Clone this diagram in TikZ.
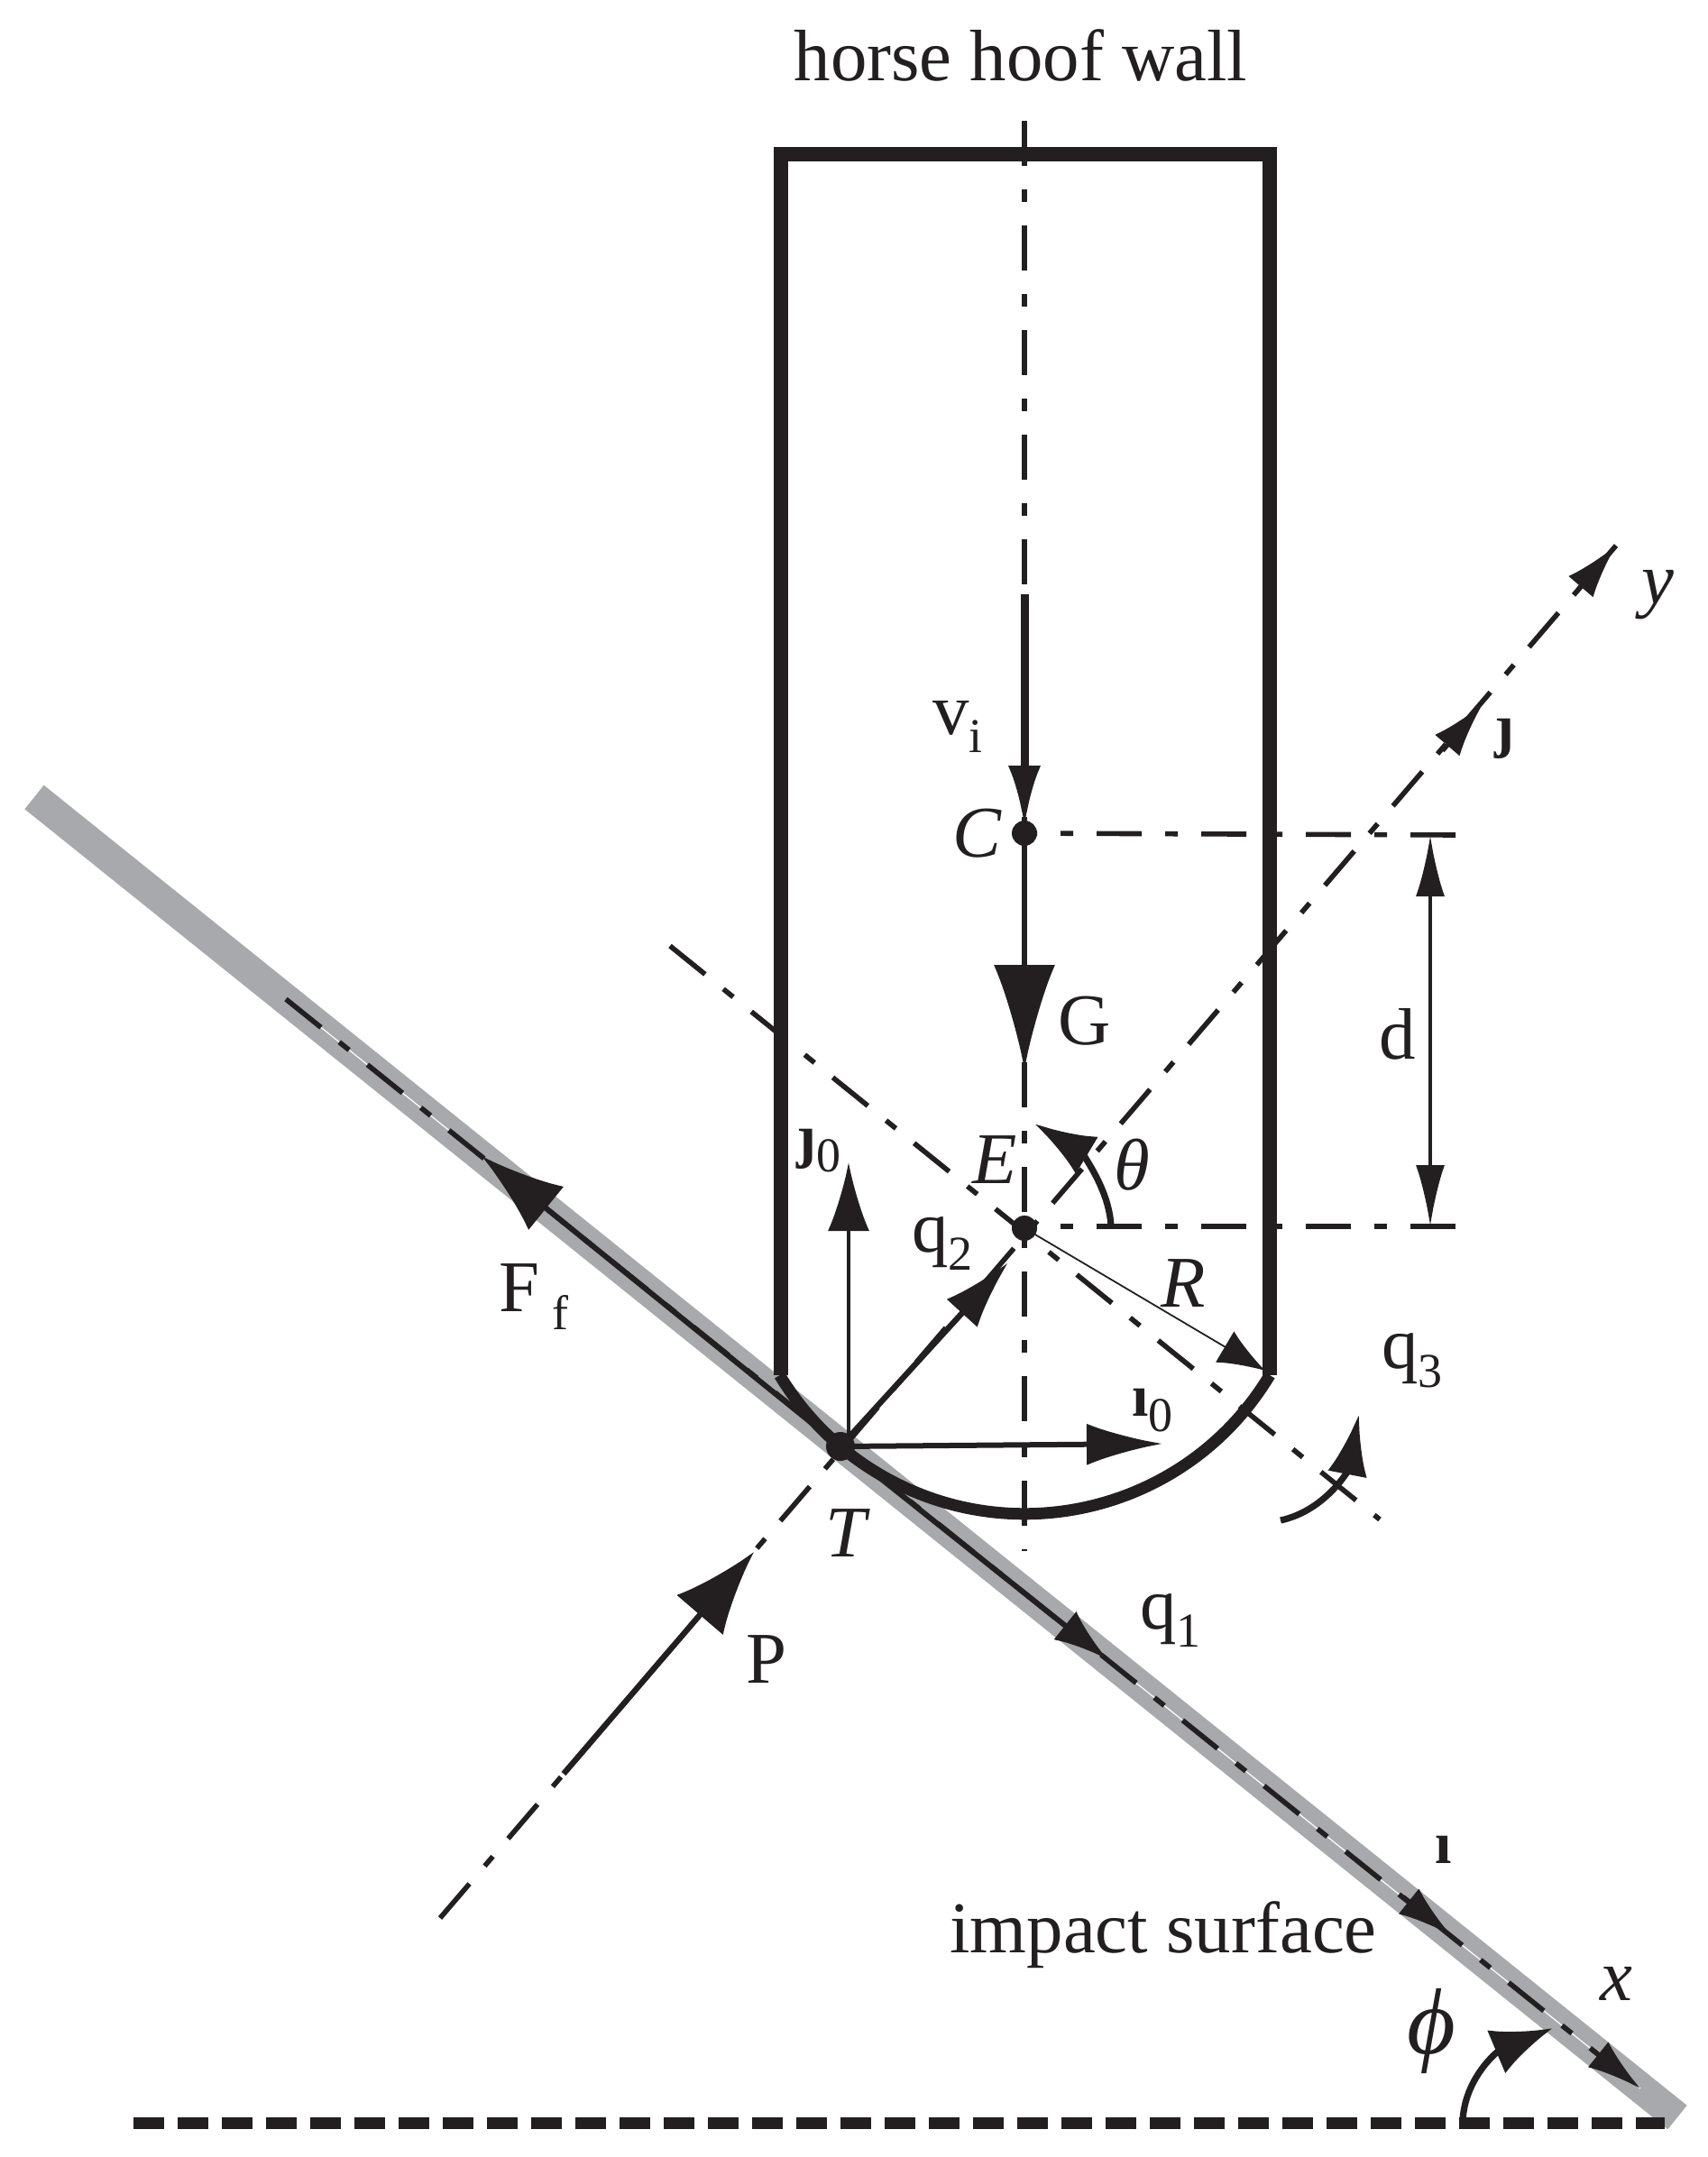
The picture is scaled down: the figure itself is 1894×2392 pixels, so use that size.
\documentclass[tikz,border=0pt]{standalone}
\usepackage{fontspec}
\setmainfont{Liberation Serif}
\usetikzlibrary{arrows.meta, calc}
\definecolor{ink}{HTML}{231F20}
\definecolor{strip}{HTML}{A7A9AC}
\newcommand{\subtext}[1]{\raisebox{-0.55ex}{\fontsize{27}{32}\mdseries\selectfont #1}}
\tikzset{
  centerline/.style={ink, line width=2.8pt, dash pattern=on 25pt off 13pt on 7pt off 13pt},
  vec/.style={ink, line width=3pt},
  head/.style={ink, line width=2.5pt, -{Latex[length=30pt, width=18pt]}},
  label/.style={text=ink, inner sep=0pt, font=\fontsize{40.4}{48}\selectfont},
  italic label/.style={text=ink, inner sep=0pt, font=\fontsize{40.4}{48}\itshape\selectfont},
  small label/.style={text=ink, inner sep=0pt, font=\fontsize{33}{38}\bfseries\selectfont}
}
\begin{document}
\begin{tikzpicture}[x=0.5pt, y=-0.5pt]
  \useasboundingbox (0, 0) rectangle (1894, 2392);

  % Points
  \coordinate (C) at (1136, 924);
  \coordinate (E) at (1136, 1362);
  \coordinate (T) at (932, 1604);
  \coordinate (stripStart) at (38, 884);
  \coordinate (stripEnd) at (1860, 2348);
  \coordinate (surfStart) at (317, 1108);
  \coordinate (xTip) at (1819, 2316);
  \coordinate (iTip) at (1609, 2146);
  \coordinate (ffTip) at (534, 1282);
  \coordinate (qOneTip) at (1228, 1840);
  \coordinate (yStart) at (488, 2127);
  \coordinate (yTip) at (1792, 605);
  \coordinate (jTip) at (1644, 781);
  \coordinate (pStart) at (625, 1967);
  \coordinate (pTip) at (836, 1721);
  \coordinate (axisTop) at (1136, 134);
  \coordinate (axisBottom) at (1136, 1720);
  \coordinate (diagStart) at (743, 1049);
  \coordinate (diagEnd) at (1530, 1685);
  \coordinate (dimTop) at (1614, 926);
  \coordinate (dimBottom) at (1614, 1360);
  \coordinate (dTop) at (1586, 926);
  \coordinate (dBottom) at (1586, 1360);
  \coordinate (horizStart) at (148, 2354);
  \coordinate (horizEnd) at (1846, 2354);

  % Impact surface
  \draw[strip, line width=17pt] (stripStart) -- (stripEnd);
  \draw[white, line width=0.6pt] (surfStart) -- (xTip);
  \draw[centerline] (surfStart) -- (xTip);
  \draw[ink, line width=6.5pt, dash pattern=on 17pt off 7.5pt] (horizStart) -- (horizEnd);

  % Centre lines
  \draw[centerline] (axisTop) -- (axisBottom);
  \draw[centerline] (yStart) -- (yTip);
  \draw[centerline] (diagStart) -- (diagEnd);
  \draw[centerline] (dimTop) -- (C);
  \draw[centerline] (dimBottom) -- (E |- dimBottom);

  % Hoof wall
  \draw[ink, line width=7.8pt] (866, 1525) -- (866, 171) -- (1408, 171) -- (1408, 1525);
  \draw[ink, line width=6.5pt] (1408, 1525) arc[start angle=-31, end angle=-149, radius=158.5pt];

  % Vectors
  \draw[vec, line width=4.5pt, -{Latex[length=34pt, width=18pt]}] (1136, 659) -- (1136, 917);
  \draw[vec, -{Latex[length=58pt, width=34pt]}] (C) -- (1136, 1186);
  \draw[vec, line width=2.4pt, {Latex[length=34pt, width=16pt]}-{Latex[length=34pt, width=16pt]}] (dTop) -- (dBottom);
  \draw[vec, line width=2.4pt, -{Latex[length=38pt, width=23pt]}] (941, 1604) -- (941, 1289);
  \draw[vec, -{Latex[length=42pt, width=23pt]}] (T) -- (1289, 1601);
  \draw[vec, line width=3.2pt, -{Latex[length=38pt, width=23pt]}] (T) -- (1118, 1400);
  \draw[vec, line width=0.9pt, -{Latex[length=26pt, width=20pt]}] (E) -- (1403, 1520);
  \draw[vec, -{Latex[length=46pt, width=31pt]}] (T) -- (ffTip);
  \draw[vec, -{Latex[length=30pt, width=20pt]}] (T) -- (qOneTip);
  \draw[vec, line width=3.2pt, -{Latex[length=46pt, width=34pt]}] (pStart) -- (pTip);
  \draw[head] ($(iTip)!34pt!(surfStart)$) -- (iTip);
  \draw[head] ($(xTip)!34pt!(surfStart)$) -- (xTip);
  \draw[head] ($(yTip)!34pt!(yStart)$) -- (yTip);
  \draw[head] ($(jTip)!34pt!(yStart)$) -- (jTip);

  % Angle arrows
  \draw[vec, line width=3.6pt, -{Latex[length=34pt, width=24pt]}] (1232, 1360) .. controls (1230, 1315) and (1195, 1275) .. (1147, 1246);
  \draw[vec, line width=3.6pt, -{Latex[length=34pt, width=22pt]}] (1420, 1686) .. controls (1470, 1675) and (1495, 1630) .. (1507, 1568);
  \draw[vec, line width=3.6pt, -{Latex[length=34pt, width=26pt]}] (1622, 2352) .. controls (1624, 2305) and (1660, 2275) .. (1722, 2249);

  % Points on top
  \fill[ink] (C) circle[radius=7pt];
  \fill[ink] (E) circle[radius=7pt];
  \fill[ink] (T) circle[radius=8pt];

  % Labels
  \node[label] (wallText) at (1132, 61) {horse hoof wall};
  \node[label] (viText) at (1062, 806) {v\subtext{i}};
  \node[italic label] (cText) at (1083, 924) {C};
  \node[label] (gText) at (1203, 1132) {G};
  \node[label] (dText) at (1550, 1147) {d};
  \node[italic label] (eText) at (1103, 1286) {E};
  \node[italic label] (thetaText) at (1255, 1292) {θ};
  \node[small label] (jText) at (1668, 819) {ȷ};
  \node[italic label] (yText) at (1838, 660) {y};
  \node[small label] (jZeroText) at (908, 1276) {ȷ\subtext{0}};
  \node[label] (qTwoText) at (1045, 1379) {q\subtext{2}};
  \node[italic label] (rText) at (1312, 1423) {R};
  \node[label] (ffText) at (592, 1438) {F\,\subtext{f}};
  \node[label] (qThreeText) at (1566, 1509) {q\subtext{3}};
  \node[small label] (iZeroText) at (1278, 1564) {ı\subtext{0}};
  \node[italic label] (tText) at (938, 1700) {T};
  \node[label] (qOneText) at (1298, 1797) {q\subtext{1}};
  \node[label] (pText) at (850, 1840) {P};
  \node[small label] (iText) at (1601, 2051) {ı};
  \node[label] (surfText) at (1290, 2146) {impact surface};
  \node[italic label] (xText) at (1792, 2200) {x};
  \node[italic label, font=\fontsize{52}{60}\itshape\selectfont] (phiText) at (1587, 2252) {ϕ};
\end{tikzpicture}
\end{document}
